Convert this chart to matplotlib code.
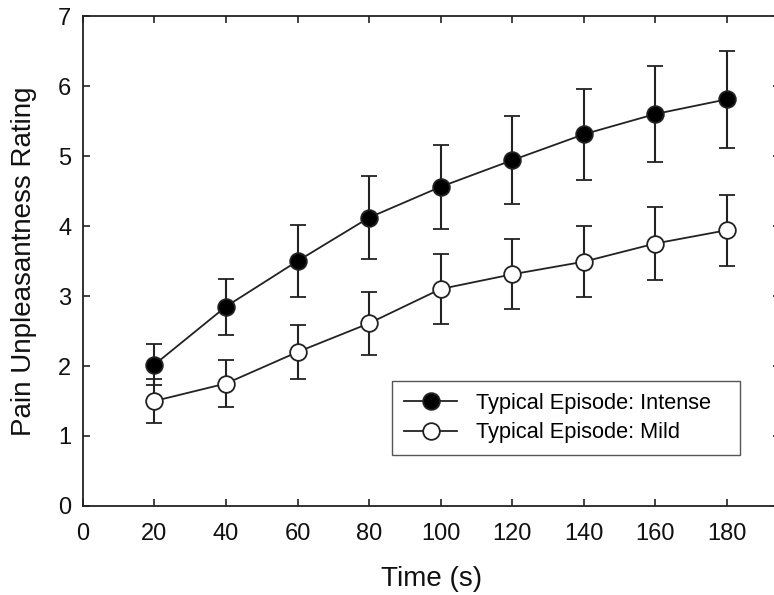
import matplotlib
matplotlib.use('Agg')
import matplotlib.pyplot as plt
from matplotlib.lines import Line2D

# time points (s)
time = [20, 40, 60, 80, 100, 120, 140, 160, 180]

# Typical Episode: Intense
intense_mean = [2.02, 2.85, 3.50, 4.12, 4.56, 4.94, 5.31, 5.60, 5.81]
intense_err = [0.29, 0.40, 0.51, 0.59, 0.60, 0.63, 0.65, 0.68, 0.69]

# Typical Episode: Mild
mild_mean = [1.50, 1.75, 2.20, 2.61, 3.10, 3.31, 3.49, 3.75, 3.94]
mild_err = [0.32, 0.33, 0.38, 0.45, 0.50, 0.50, 0.51, 0.515, 0.51]

x_ticks = [0, 20, 40, 60, 80, 100, 120, 140, 160, 180]
y_ticks = [0, 1, 2, 3, 4, 5, 6, 7]

labels = ['Typical Episode: Intense', 'Typical Episode: Mild']

plt.rcParams['font.family'] = ['Liberation Sans', 'DejaVu Sans']

ink = '#222222'
text_c = '#111111'

fig = plt.figure(figsize=(7.74, 5.95), dpi=100)
ax = fig.add_axes([0.1072, 0.1496, 0.9010, 0.8234])

style = dict(color=ink, lw=1.3, marker='o', ms=12, mec=ink, mew=1.3)

ax.errorbar(time, intense_mean, yerr=intense_err, mfc='black',
            capsize=5.5, capthick=1.5, elinewidth=1.5, zorder=3, **style)
ax.errorbar(time, mild_mean, yerr=mild_err, mfc='white',
            capsize=5.5, capthick=1.5, elinewidth=1.5, zorder=3, **style)

ax.set_xlim(0, 195)
ax.set_ylim(0, 7)
ax.set_xticks(x_ticks)
ax.set_yticks(y_ticks)
ax.tick_params(direction='in', length=5, width=1.2, color=ink,
               top=True, right=True, labelsize=17, labelcolor=text_c)
ax.tick_params(axis='x', pad=12)
ax.tick_params(axis='y', pad=8.5)
for s in ax.spines.values():
    s.set_linewidth(1.3)
    s.set_color(ink)

ax.set_xlabel('Time (s)', fontsize=20, color=text_c)
ax.set_ylabel('Pain Unpleasantness Rating', fontsize=20, color=text_c)
ax.xaxis.set_label_coords(0.5, -0.122)
ax.yaxis.set_label_coords(-0.066, 0.5)

handles = [Line2D([], [], mfc='black', **style),
           Line2D([], [], mfc='white', **style)]
leg = ax.legend(handles, labels, loc='center',
                bbox_to_anchor=(0.4433, 0.0959, 0.4993, 0.1673),
                mode='expand', fancybox=False, edgecolor='#555555',
                fontsize=15.7, handlelength=2.43, handletextpad=0.87,
                borderpad=0.55, labelspacing=0.4, borderaxespad=0, framealpha=1)
leg.get_frame().set_linewidth(1.0)

fig.savefig('out.png', dpi=100)
